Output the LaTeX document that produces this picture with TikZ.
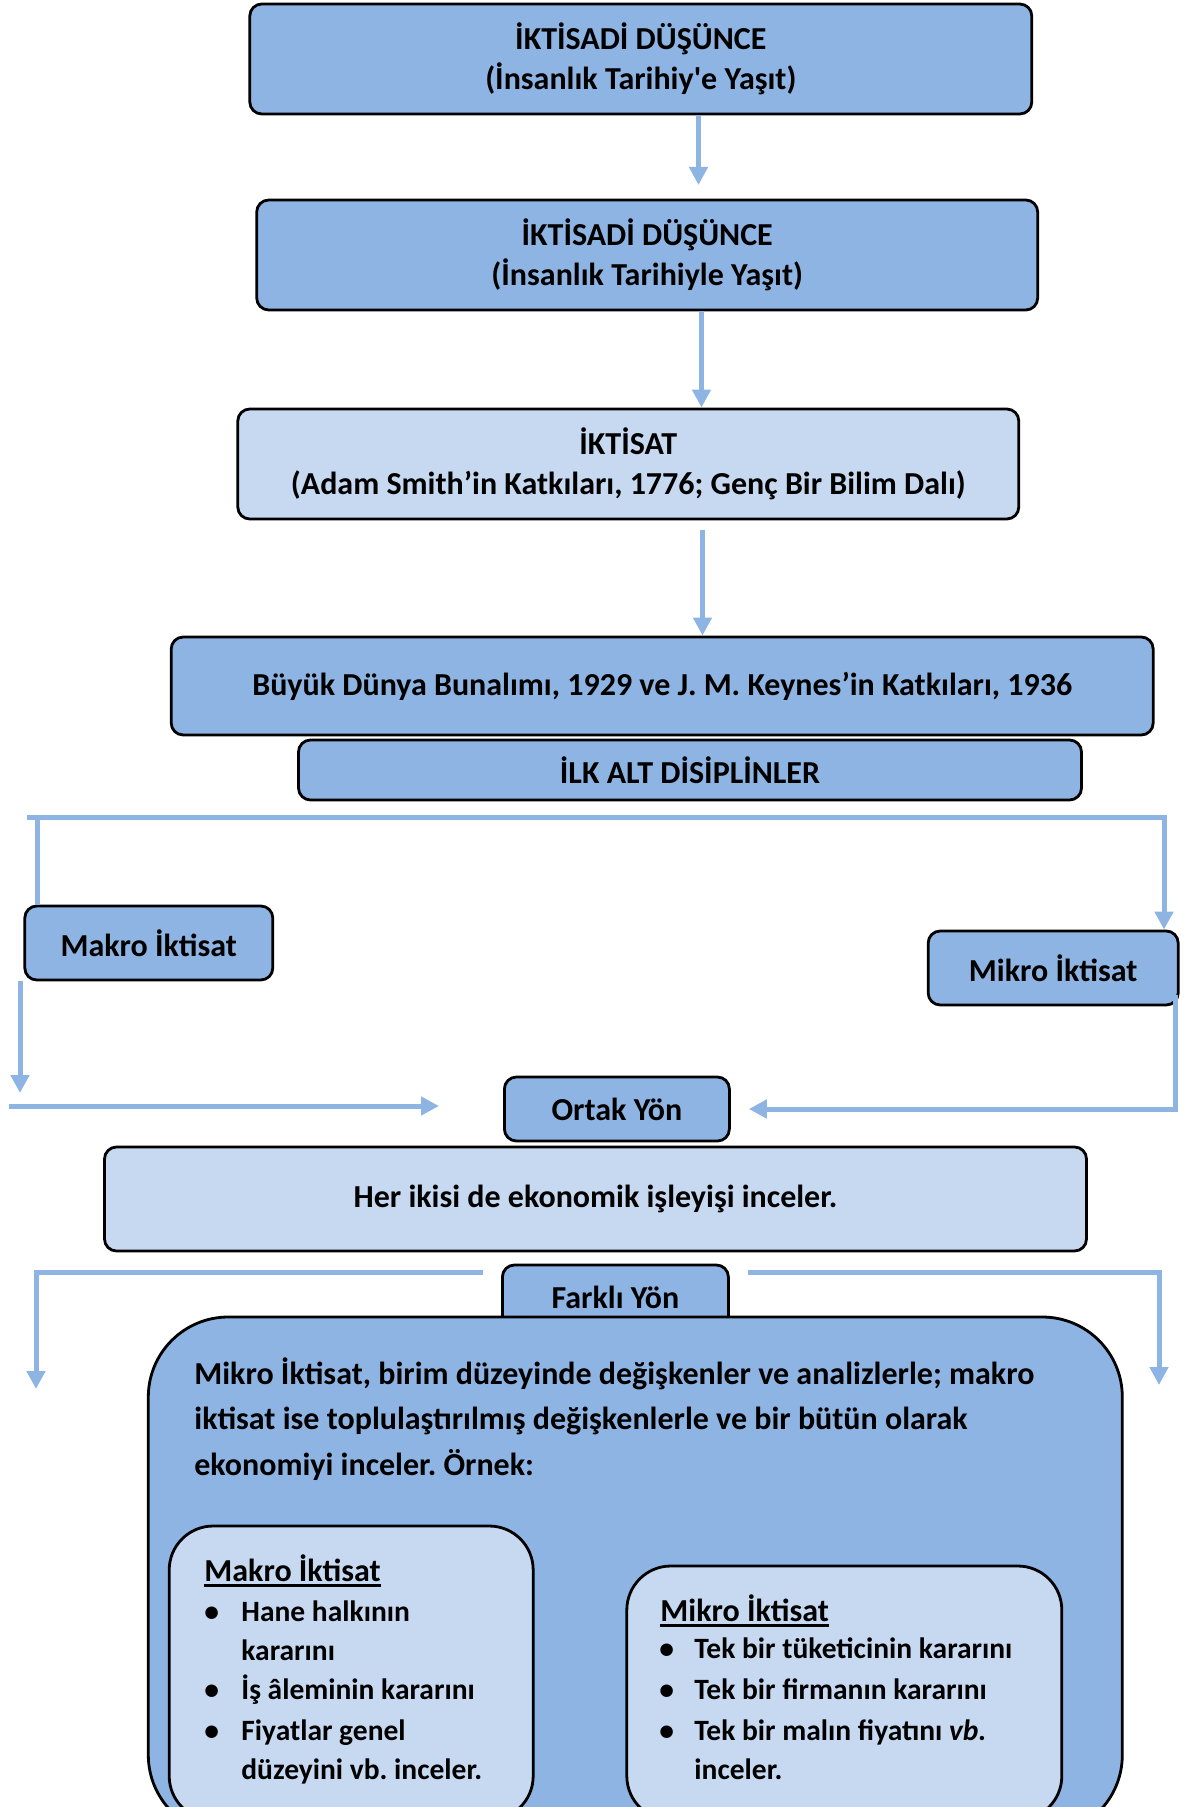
\documentclass[tikz,border=0pt]{standalone}
\usepackage{fontspec}
\setmainfont{Carlito}
\usetikzlibrary{arrows.meta}
\definecolor{darkbox}{HTML}{8EB4E3}
\definecolor{lightbox}{HTML}{C6D9F1}
\definecolor{linkblue}{HTML}{8EB4E3}
\newcommand{\ulbaslik}[1]{\setbox0\hbox{#1}\rlap{\rule[-2.8pt]{\wd0}{1.3pt}}\box0}
\frenchspacing
\begin{document}
\begin{tikzpicture}[x=0.5pt,y=-0.5pt,
% common options for the boxes:
box/.style = {draw, line width=1.4pt, rounded corners=6pt, align=center,
            inner sep=0, font=\fontsize{16}{20}\selectfont\bfseries},
dark/.style = {box, fill=darkbox},
light/.style = {box, fill=lightbox},
% common options for the connectors:
link/.style = {draw=linkblue, line width=2.5pt},
arr/.style = {link, -{Triangle[width=9pt,length=9pt]}},
% text lines inside the big box:
txt/.style = {anchor=base west, inner sep=0, font=\fontsize{16}{20}\selectfont\bfseries},
liste/.style = {txt, font=\fontsize{14.75}{20}\selectfont\bfseries}]
\useasboundingbox (0,0) rectangle (1195,1807);
\clip (0,0) rectangle (1195,1807);
\node[dark, minimum width=391pt, minimum height=55pt] (dus1) at (640.8,59) {İKTİSADİ DÜŞÜNCE\\(İnsanlık Tarihiy\textquotesingle e Yaşıt)};
\node[dark, minimum width=390.5pt, minimum height=55pt] (dus2) at (647.2,255) {İKTİSADİ DÜŞÜNCE\\(İnsanlık Tarihiyle Yaşıt)};
\node[light, minimum width=390.5pt, minimum height=55pt] (iktisat) at (628.3,464) {İKTİSAT\\(Adam Smith’in Katkıları, 1776; Genç Bir Bilim Dalı)};
\node[dark, minimum width=491pt, minimum height=49pt] (keynes) at (662.2,686) {Büyük Dünya Bunalımı, 1929 ve J. M. Keynes’in Katkıları, 1936};
\node[dark, minimum width=391.5pt, minimum height=30pt] (alt) at (690,770) {İLK ALT DİSİPLİNLER};
\node[dark, minimum width=124pt, minimum height=37pt] (makro) at (148.8,943) {Makro İktisat};
\node[dark, minimum width=125pt, minimum height=37pt] (mikro) at (1053.2,968) {Mikro İktisat};
\node[dark, minimum width=112.5pt, minimum height=32pt] (ortak) at (616.9,1109) {Ortak Yön};
\node[light, minimum width=491pt, minimum height=52pt] (ikisi) at (595.5,1199) {Her ikisi de ekonomik işleyişi inceler.};
\node[dark, minimum width=113pt, minimum height=32.5pt] (farkli) at (615.4,1297.5) {Farklı Yön};
\node[dark, rounded corners=40pt, minimum width=487pt, minimum height=259pt] (fark) at (635.3,1576) {};
\node[light, rounded corners=22pt, minimum width=182pt, minimum height=147pt] (makrokutu) at (351.2,1673) {};
\node[light, rounded corners=22pt, minimum width=217.5pt, minimum height=127pt] (mikrokutu) at (844.3,1693) {};
\node[txt] (p1) at (194,1384) {Mikro İktisat, birim düzeyinde değişkenler ve analizlerle; makro};
\node[txt] (p2) at (194,1429) {iktisat ise toplulaştırılmış değişkenlerle ve bir bütün olarak};
\node[txt] (p3) at (194,1475) {ekonomiyi inceler. Örnek:};
\node[txt] (ma0) at (204,1581) {\ulbaslik{Makro İktisat}};
\node[liste] (ma1) at (204,1621) {\makebox[18.5pt][l]{\textbullet}Hane halkının};
\node[liste] (ma2) at (241,1660) {kararını};
\node[liste] (ma3) at (204,1699) {\makebox[18.5pt][l]{\textbullet}İş âleminin kararını};
\node[liste] (ma4) at (204,1740) {\makebox[18.5pt][l]{\textbullet}Fiyatlar genel};
\node[liste] (ma5) at (241,1779) {düzeyini vb. inceler.};
\node[txt] (mi0) at (660,1621) {\ulbaslik{Mikro İktisat}};
\node[liste] (mi1) at (659,1658) {\makebox[17.5pt][l]{\textbullet}Tek bir tüketicinin kararını};
\node[liste] (mi2) at (659,1699) {\makebox[17.5pt][l]{\textbullet}Tek bir firmanın kararını};
\node[liste] (mi3) at (659,1740) {\makebox[17.5pt][l]{\textbullet}Tek bir malın fiyatını \textit{vb.}};
\node[liste] (mi4) at (694,1779) {inceler.};
% vertical chain
\coordinate (a1) at (698.5,185);
\coordinate (a2) at (701.5,0);
\coordinate (a3) at (702.5,0);
\draw[arr] (dus1.south -| a1) -- (a1);
\draw[arr] (dus2.south -| a2) -- (iktisat.north -| a2);
\draw[arr, shorten <=5pt] (iktisat.south -| a3) -- (keynes.north -| a3);
% split into the two sub-disciplines
\coordinate (sol) at (37,817);
\coordinate (sag) at (1164,817);
\draw[link] (sol) -- (sol |- makro.north);
\draw[arr, shorten <=-5pt] (sol) -- (sag) -- (sag |- mikro.north);
% common side
\coordinate (mk) at (20,1093);
\coordinate (ok) at (9,1106);
\coordinate (mr) at (1175,1109);
\draw[arr] (makro.south -| mk) -- (mk);
\draw[arr, shorten >=32pt] (ok) -- (ok -| ortak.west);
\draw[arr, shorten <=-5.5pt, shorten >=9pt] (mikro.south -| mr) -- (mr) -- (mr -| ortak.east);
% different side
\coordinate (fy) at (0,1272);
\coordinate (fs) at (36,1389);
\coordinate (fg) at (1159,1385);
\draw[arr, shorten <=9pt] (farkli.west |- fy) -- (fy -| fs) -- (fs);
\draw[arr, shorten <=9pt] (farkli.east |- fy) -- (fy -| fg) -- (fg);
\end{tikzpicture}
\end{document}
